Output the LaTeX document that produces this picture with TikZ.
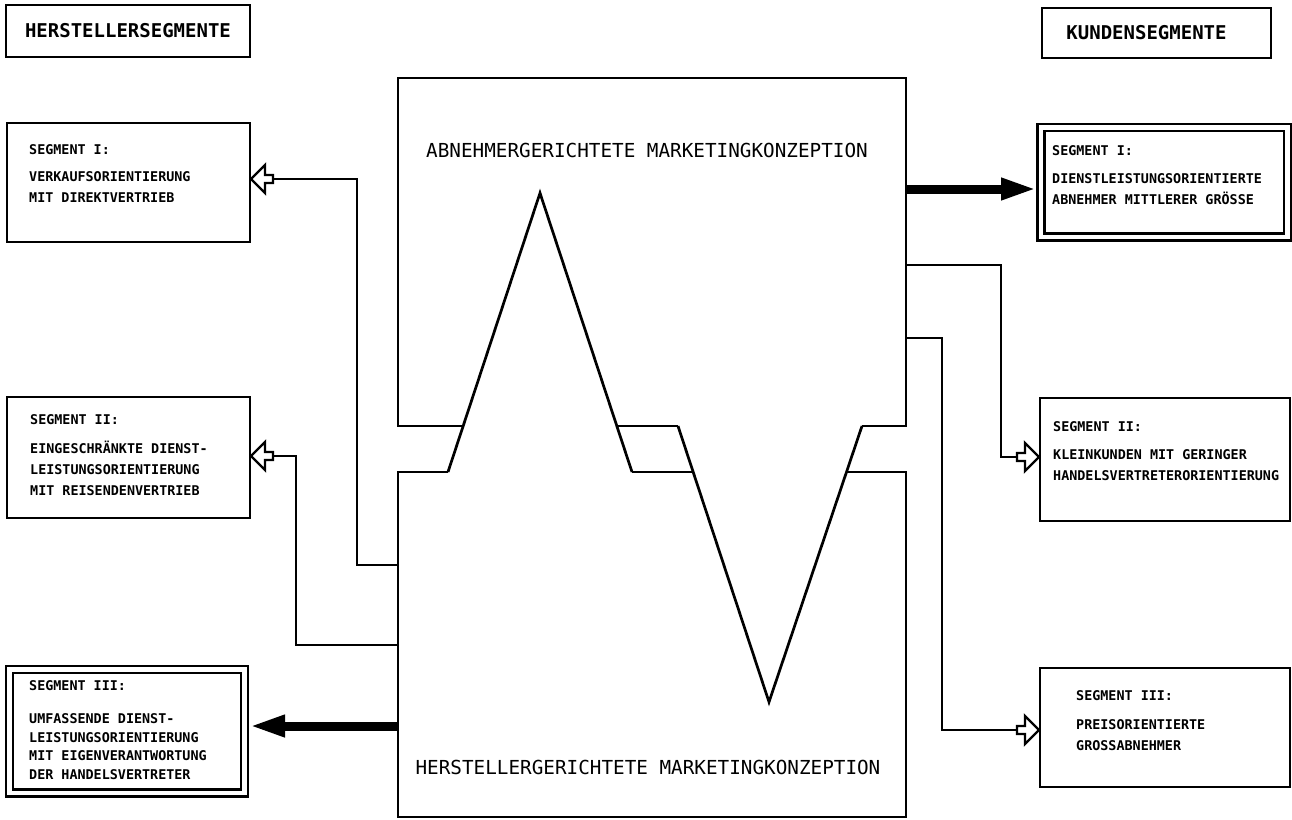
\documentclass[tikz,border=0pt]{standalone}
\usepackage{fontspec}
\newfontfamily\lettering{DejaVu Sans Mono}
\usetikzlibrary{arrows.meta}
\begin{document}
\begin{tikzpicture}[x=1pt,y=-1pt,
  box/.style={draw, line width=2.8pt, inner sep=0pt, outer sep=0pt},
  dbox/.style={draw, line width=2.5pt, double, double distance=4.2pt, inner sep=0pt},
  conn/.style={line width=2.6pt, line join=miter},
  frame/.style={line width=2.7pt, line join=miter},
  bigarrow/.style={line width=9pt, -{Triangle[length=36pt,width=20pt]}},
  segtext/.style={anchor=base west, align=left, inner sep=0pt, font=\lettering\bfseries\fontsize{13.4}{21}\selectfont},
  bigtext/.style={anchor=base, inner sep=0pt, font=\lettering\fontsize{19.3}{23}\selectfont},
  hdrtext/.style={font=\lettering\bfseries\fontsize{19}{23}\selectfont},
  hollowL/.pic={\draw[line width=2.4pt, fill=white, line join=miter] (0,0) -- (14,-14) -- (14,-4) -- (22,-4) -- (22,4) -- (14,4) -- (14,14) -- cycle;
                \coordinate (-tail) at (22,0);},
  hollowR/.pic={\draw[line width=2.4pt, fill=white, line join=miter] (0,0) -- (-14,-14) -- (-14,-4) -- (-22,-4) -- (-22,4) -- (-14,4) -- (-14,14) -- cycle;
                \coordinate (-tail) at (-22,0);}
]
\useasboundingbox (0,0) rectangle (1292,819);

% headers
\node[box, hdrtext, minimum width=244pt, minimum height=52pt] (hL) at (128,31) {HERSTELLERSEGMENTE};
\node[box, hdrtext, minimum width=229pt, minimum height=50pt] (hR) at (1156.5,33) {KUNDENSEGMENTE\hspace*{20pt}};

% left segment boxes
\node[box, minimum width=243pt, minimum height=119pt] (ls1) at (128.5,182.5) {};
\node[box, minimum width=243pt, minimum height=121pt] (ls2) at (128.5,457.5) {};
\node[dbox, minimum width=235pt, minimum height=123.5pt] (ls3) at (127,731.25) {};

% (base anchor = baseline of the last line)
\node[segtext] (tl1) at (29,202) {SEGMENT I:\\[6pt]VERKAUFSORIENTIERUNG\\MIT DIREKTVERTRIEB};
\node[segtext] (tl2) at (30,495) {SEGMENT II:\\[8pt]EINGESCHRÄNKTE DIENST-\\LEISTUNGSORIENTIERUNG\\MIT REISENDENVERTRIEB};
\node[segtext, font=\lettering\bfseries\fontsize{13.4}{18.5}\selectfont] (tl3) at (29,779) {SEGMENT III:\\[14.5pt]UMFASSENDE DIENST-\\LEISTUNGSORIENTIERUNG\\MIT EIGENVERANTWORTUNG\\DER HANDELSVERTRETER};

% right segment boxes
\node[dbox, minimum width=246.5pt, minimum height=109.5pt] (rs1) at (1164.25,182.25) {};
\node[box, minimum width=250pt, minimum height=123pt] (rs2) at (1165,459.5) {};
\node[box, minimum width=250pt, minimum height=119pt] (rs3) at (1165,727.5) {};

\node[segtext] (tr1) at (1052,204) {SEGMENT I:\\[7pt]DIENSTLEISTUNGSORIENTIERTE\\ABNEHMER MITTLERER GRÖSSE};
\node[segtext] (tr2) at (1053,480) {SEGMENT II:\\[7pt]KLEINKUNDEN MIT GERINGER\\HANDELSVERTRETERORIENTIERUNG};
\node[segtext] (tr3) at (1076,750) {SEGMENT III:\\[8pt]PREISORIENTIERTE\\GROSSABNEHMER};

% central boxes
\draw[frame] (463,426) -- (398,426) -- (398,78) -- (906,78) -- (906,426) -- (862,426);
\draw[frame] (617,426) -- (678,426);
\draw[frame] (448,472) -- (398,472) -- (398,817) -- (906,817) -- (906,472) -- (846,472);
\draw[frame] (632,472) -- (693,472);
\draw[frame] (448,472) -- (540,193) -- (632,472);
\draw[frame] (678,426) -- (769,702) -- (862,426);

\node[bigtext] (tup) at (647,157) {ABNEHMERGERICHTETE MARKETINGKONZEPTION};
\node[bigtext] (tlo) at (648,774) {HERSTELLERGERICHTETE MARKETINGKONZEPTION};

% connector ends
\coordinate (cL1) at (398,565);
\coordinate (cL2) at (398,645);
\coordinate (cL3) at (398,726);
\coordinate (tL3) at (249,726);
\coordinate (cR1) at (906,189);
\coordinate (tR1) at (1037,189);
\coordinate (cR2) at (906,265);
\coordinate (cR3) at (906,338);

% hollow arrows
\pic (aL1) at (251,179) {hollowL};
\pic (aL2) at (251,456) {hollowL};
\pic (aR2) at (1039,457) {hollowR};
\pic (aR3) at (1039,730) {hollowR};

% connectors
\draw[conn] (cL1) -- ++(-41,0) |- (aL1-tail);
\draw[conn] (cL2) -- ++(-102,0) |- (aL2-tail);
\draw[conn] (cR2) -- ++(95,0) |- (aR2-tail);
\draw[conn] (cR3) -- ++(36,0) |- (aR3-tail);
\draw[bigarrow] (cL3) -- (tL3);
\draw[bigarrow] (cR1) -- (tR1);
\end{tikzpicture}
\end{document}
